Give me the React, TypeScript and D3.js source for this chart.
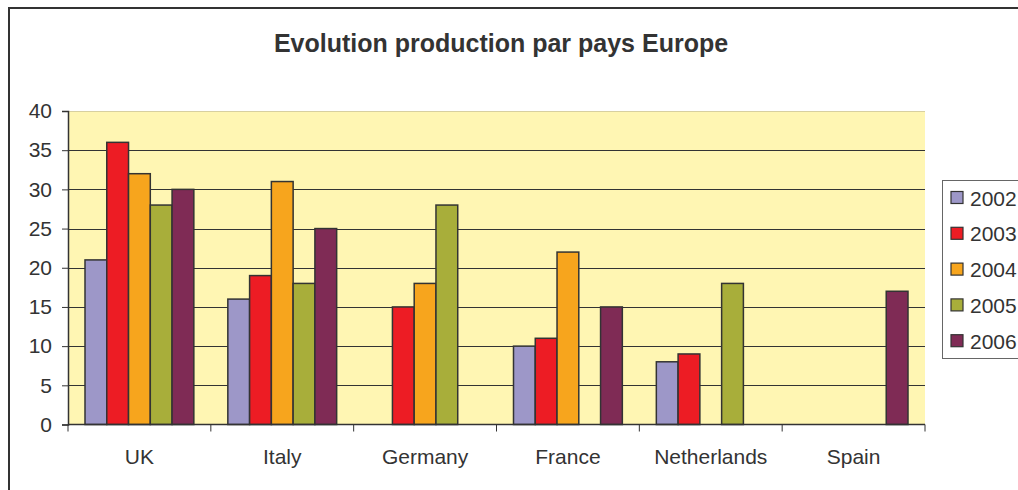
import React, { useEffect, useRef } from "react";
import * as d3 from "d3";

const countries = ["UK", "Italy", "Germany", "France", "Netherlands", "Spain"];
const years = ["2002", "2003", "2004", "2005", "2006"];
const colors = ["#9d97c8", "#ed1c24", "#f7a51d", "#a8ae3a", "#7f2b55"];
// values per year, in country order (null = no bar)
const v2002 = [21, 16, null, 10, 8, null];
const v2003 = [36, 19, 15, 11, 9, null];
const v2004 = [32, 31, 18, 22, null, null];
const v2005 = [28, 18, 28, null, 18, null];
const v2006 = [30, 25, null, 15, null, 17];
const yTicks = [0, 5, 10, 15, 20, 25, 30, 35, 40];

const series = [v2002, v2003, v2004, v2005, v2006];

const App = () => {
  const ref = useRef<SVGSVGElement>(null);

  useEffect(() => {
    const svg = d3.select(ref.current);
    svg.selectAll("*").remove();

    const width = 1018;
    const height = 490;
    const left = 68;
    const right = 925;
    const top = 111;
    const bottom = 424.5;
    const font = "Liberation Sans, Arial, sans-serif";
    const ink = "#333";

    svg.attr("width", width).attr("height", height);

    // outer chart frame
    svg.append("rect")
      .attr("x", 9).attr("y", 8)
      .attr("width", 1100).attr("height", 600)
      .attr("fill", "#fff")
      .attr("stroke", ink).attr("stroke-width", 2);

    svg.append("text")
      .attr("x", 501).attr("y", 52)
      .attr("text-anchor", "middle")
      .attr("font-family", font).attr("font-weight", "bold")
      .attr("font-size", 25).attr("fill", ink)
      .text("Evolution production par pays Europe");

    const x0 = d3.scaleBand().domain(countries).range([left, right]);
    const x1 = d3.scaleBand().domain(years).range([17, x0.bandwidth() - 17]);
    const y = d3.scaleLinear().domain([0, 40]).range([bottom, top]);

    // plot area
    svg.append("rect")
      .attr("x", left).attr("y", top)
      .attr("width", right - left).attr("height", bottom - top)
      .attr("fill", "#fff6b3");

    // gridlines
    svg.append("g")
      .selectAll("line")
      .data(yTicks.filter((t) => t > 0))
      .enter()
      .append("line")
      .attr("x1", left).attr("x2", right)
      .attr("y1", (d) => Math.round(y(d)) + 0.5)
      .attr("y2", (d) => Math.round(y(d)) + 0.5)
      .attr("stroke", (d) => (d === 40 ? "#d8d0a0" : ink))
      .attr("stroke-width", 1);

    // bars
    const groups = svg.append("g")
      .selectAll("g")
      .data(countries)
      .enter()
      .append("g")
      .attr("transform", (d) => `translate(${x0(d)},0)`);

    groups.selectAll("rect")
      .data((_, i) =>
        years
          .map((yr, s) => ({ yr, s, value: series[s][i] }))
          .filter((d) => d.value != null)
      )
      .enter()
      .append("rect")
      .attr("x", (d) => x1(d.yr)!)
      .attr("y", (d) => y(d.value as number))
      .attr("width", x1.bandwidth())
      .attr("height", (d) => y(0) - y(d.value as number))
      .attr("fill", (d) => colors[d.s])
      .attr("stroke", ink)
      .attr("stroke-width", 1.5);

    // Y axis
    const yAxis = svg.append("g")
      .attr("transform", `translate(${left},0)`)
      .call(d3.axisLeft(y).tickValues(yTicks).tickSize(6).tickPadding(10));
    yAxis.select(".domain").attr("stroke", ink).attr("stroke-width", 1.5);
    yAxis.selectAll(".tick line").attr("stroke", ink);
    yAxis.selectAll(".tick text")
      .attr("font-family", font).attr("font-size", 21).attr("fill", ink);

    // X axis: ticks at category boundaries
    const xAxis = svg.append("g").attr("transform", `translate(0,${bottom})`);
    xAxis.append("line")
      .attr("x1", left).attr("x2", right)
      .attr("stroke", ink).attr("stroke-width", 1.5);
    xAxis.selectAll(".bnd")
      .data([...countries.map((c) => x0(c)!), right])
      .enter()
      .append("line")
      .attr("x1", (d) => d).attr("x2", (d) => d)
      .attr("y1", 0).attr("y2", 7)
      .attr("stroke", ink);
    xAxis.selectAll("text")
      .data(countries)
      .enter()
      .append("text")
      .attr("x", (d) => x0(d)! + x0.bandwidth() / 2)
      .attr("y", 39)
      .attr("text-anchor", "middle")
      .attr("font-family", font).attr("font-size", 21).attr("fill", ink)
      .text((d) => d);

    // legend
    const legend = svg.append("g");
    legend.append("rect")
      .attr("x", 942.5).attr("y", 180.5)
      .attr("width", 120).attr("height", 178)
      .attr("fill", "#fff")
      .attr("stroke", "#666").attr("stroke-width", 1);
    const items = legend.selectAll("g.item")
      .data(years)
      .enter()
      .append("g")
      .attr("transform", (_, i) => `translate(0,${198 + i * 35.8})`);
    items.append("rect")
      .attr("x", 951).attr("y", -6.5)
      .attr("width", 12).attr("height", 12)
      .attr("fill", (_, i) => colors[i])
      .attr("stroke", ink).attr("stroke-width", 1.2);
    items.append("text")
      .attr("x", 970).attr("y", 7.5)
      .attr("font-family", font).attr("font-size", 21).attr("fill", ink)
      .text((d) => d);
  }, []);

  return (
    <svg
      ref={ref}
      style={{ position: "absolute", left: 0, top: 0, display: "block" }}
    ></svg>
  );
};

export default App;
